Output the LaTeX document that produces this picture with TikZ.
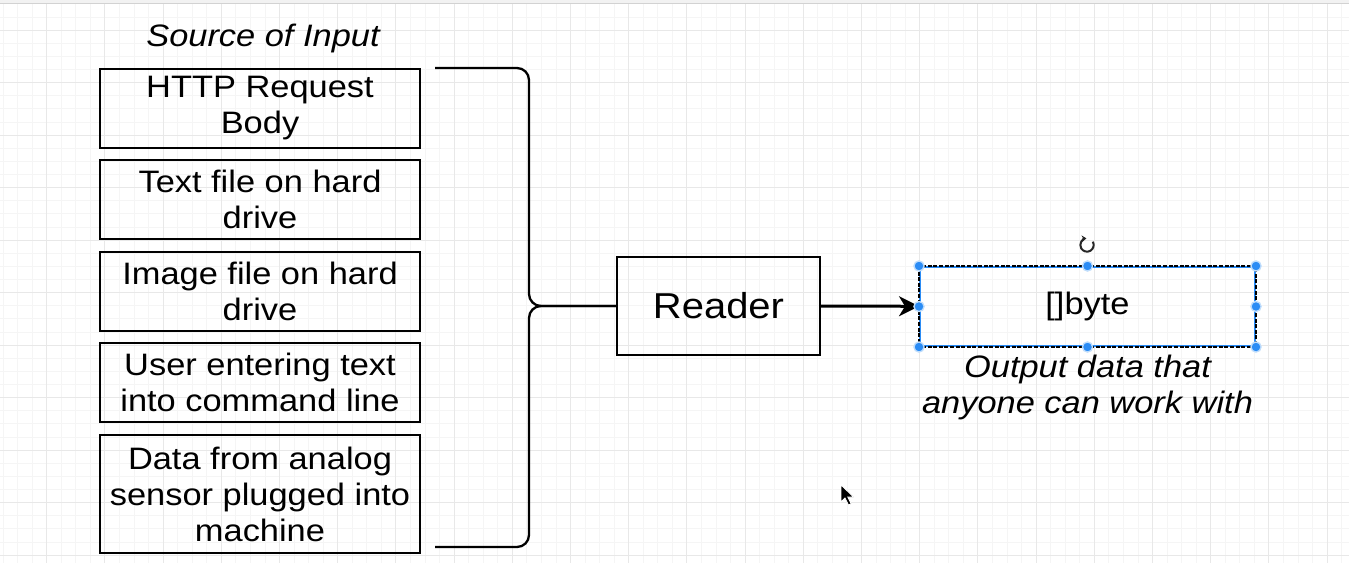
\documentclass[tikz,border=0pt]{standalone}
\usepackage{fontspec}
\setmainfont{Liberation Sans}[FakeStretch=1.11]
\usepackage{tikz}
\usetikzlibrary{arrows.meta,positioning}
\definecolor{gridmaj}{HTML}{E8E8E8}
\definecolor{gridmin}{HTML}{F5F5F5}
\definecolor{selblu}{HTML}{2B8CF5}
\newcommand{\boxfont}{\fontsize{23.25pt}{27pt}\selectfont}
\newcommand{\bigfont}{\fontsize{27pt}{31pt}\selectfont}

\begin{document}
\begin{tikzpicture}[x=0.75pt,y=-0.75pt,>=Stealth,
  srcbox/.style={draw,line width=1.75pt,minimum width=240pt,minimum height=59.25pt,inner sep=0pt,align=center,font=\boxfont},
  readerbox/.style={draw,line width=1.75pt,minimum width=152.25pt,minimum height=73.5pt,inner sep=0pt,font=\bigfont},
  bytebox/.style={draw=selblu,line width=1.5pt,minimum width=251.25pt,minimum height=59.25pt,inner sep=0pt,font=\boxfont},
  note/.style={font=\boxfont\itshape,align=center,inner sep=0pt},
  handle/.style={fill=selblu,draw=selblu!30,line width=1pt}]
\useasboundingbox (0,0) rectangle (1349,563);
\fill[white] (0,0) rectangle (1349,563);
% grid
\foreach \i in {0,...,92} \draw[gridmin,line width=0.5pt] (2.95+14.55*\i,0) -- ++(0,563);
\foreach \j in {0,...,42} \draw[gridmin,line width=0.5pt] (0,3.75+13.125*\j) -- ++(1349,0);
\foreach \i in {0,...,22} \draw[gridmaj,line width=0.7pt] (46.6+58.2*\i,0) -- ++(0,563);
\foreach \j in {0,...,10} \draw[gridmaj,line width=0.7pt] (0,30+52.5*\j) -- ++(1349,0);
\fill[gray!10] (0,0) rectangle (1349,3);
\draw[gray!35,line width=0.6pt] (0,3) -- (1349,3);
% input sources
\node[srcbox] (src1) at (260,108.5) {HTTP Request\\Body};
\node[srcbox] (src2) at (260,199.5) {Text file on hard\\drive};
\node[srcbox] (src3) at (260,291.5) {Image file on hard\\drive};
\node[srcbox] (src4) at (260,382.5) {User entering text\\into command line};
\node[srcbox,minimum height=88.5pt] (src5) at (260,494) {Data from analog\\sensor plugged into\\machine};
\node[note,anchor=base] (title) at (263,47) {Source of Input};
% reader and output
\node[readerbox] (reader) at (718.5,306) {Reader};
\node[bytebox] (bytes) at (1087.5,306.5) {[]byte};
\draw[line width=1.5pt,dash pattern=on 3pt off 1.2pt] (bytes.north west) rectangle (bytes.south east);
\node[note,below=6pt of bytes] (output) {Output data that\\anyone can work with};
% bracket
\coordinate (btop) at (435,68);
\coordinate (bbot) at (435,547);
\coordinate (bmid) at (529,306);
\draw[line width=1.75pt,rounded corners=9pt] (btop) -| (bmid) -- (reader.west);
\draw[line width=1.75pt,rounded corners=9pt] (bbot) -| (bmid) -- (reader.west);
\draw[-{Stealth[length=15pt,width=15pt,inset=4.5pt]},line width=2.25pt] (reader) -- (bytes);
% selection handles
\foreach \a in {north west,north,north east,west,east,south west,south,south east}
  \filldraw[handle] (bytes.\a) circle[radius=3.8pt];
\coordinate (rot) at (1087,245);
\draw[line width=1.5pt,black!85,-{Stealth[length=3.5pt,width=5pt]}] ([shift={(30:5pt)}]rot) arc[start angle=30,end angle=-265,radius=5pt];
% mouse pointer
\filldraw[fill=black,draw=white,line width=0.6pt] (841,485) -- ++(0,17) -- ++(4,-4) -- ++(3.5,7) -- ++(2.6,-1.2) -- ++(-3.3,-6.8) -- ++(5.8,0) -- cycle;
\end{tikzpicture}
\end{document}
